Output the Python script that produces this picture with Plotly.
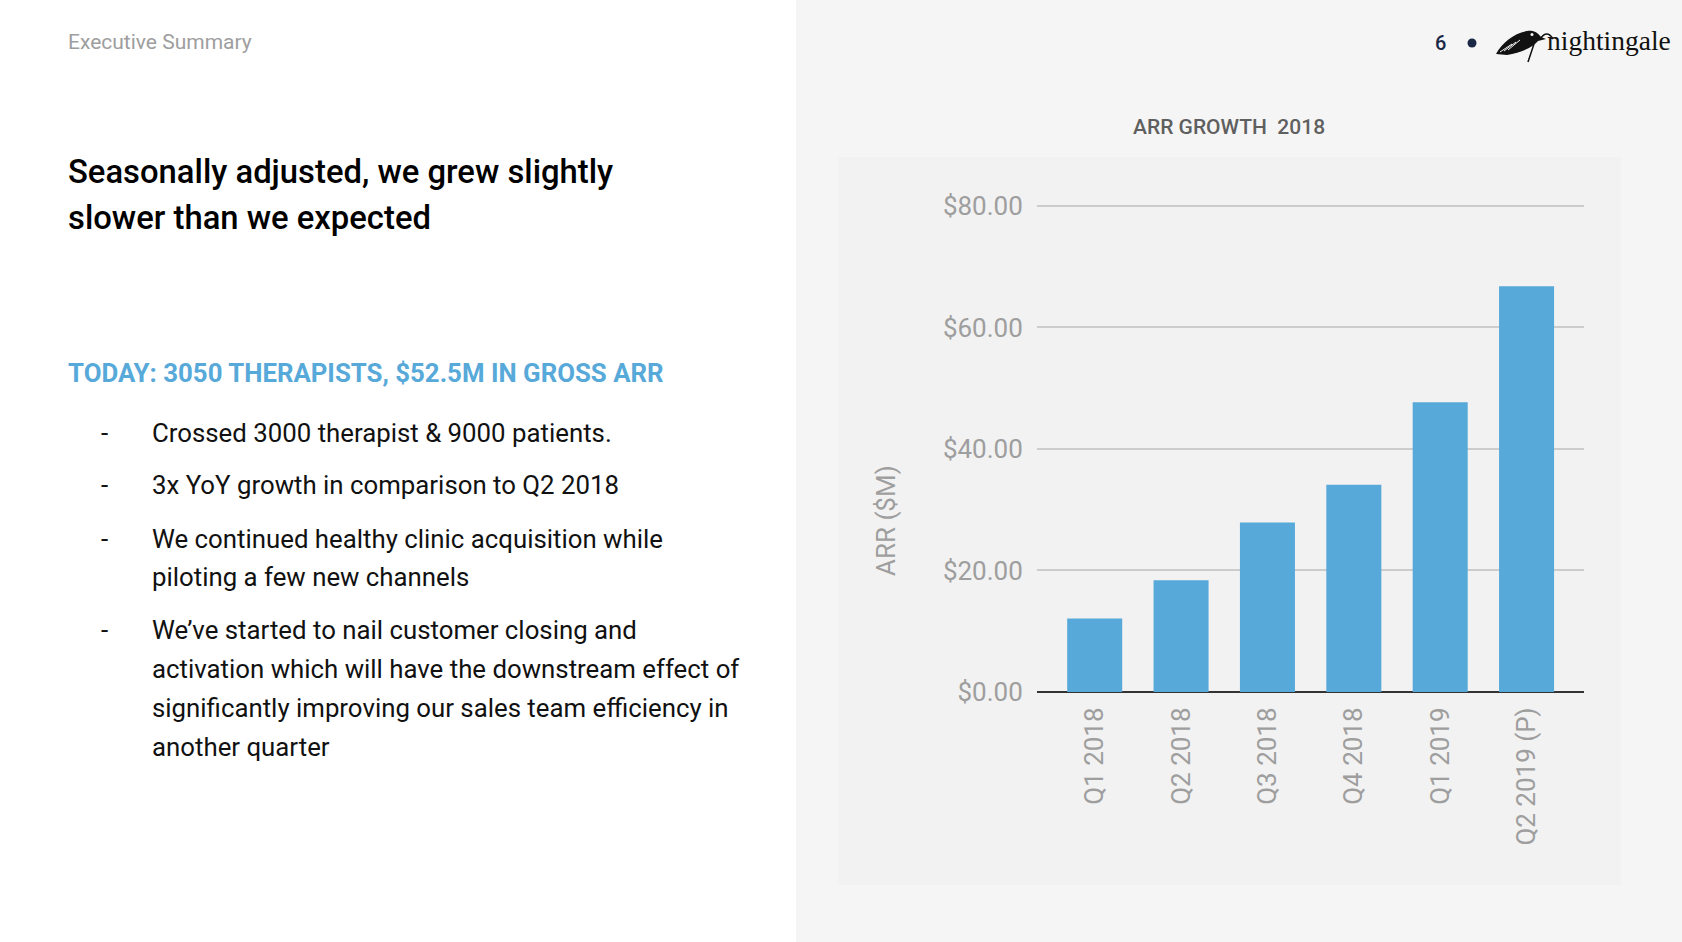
import plotly.graph_objects as go

W, H = 1682, 942

# chart data
quarters = ['Q1 2018', 'Q2 2018', 'Q3 2018', 'Q4 2018', 'Q1 2019', 'Q2 2019 (P)']
arr_musd = [12.1, 18.4, 27.9, 34.1, 47.7, 66.8]
y_ticks = [0, 20, 40, 60, 80]
y_tick_labels = ['$0.00', '$20.00', '$40.00', '$60.00', '$80.00']

# slide text
section_label = 'Executive Summary'
headline = ['Seasonally adjusted, we grew slightly', 'slower than we expected']
today_line = 'TODAY: 3050 THERAPISTS, $52.5M IN GROSS ARR'
bullets = [
    ['Crossed 3000 therapist & 9000 patients.'],
    ['3x YoY growth in comparison to Q2 2018'],
    ['We continued healthy clinic acquisition while', 'piloting a few new channels'],
    ['We\u2019ve started to nail customer closing and',
     'activation which will have the downstream effect of',
     'significantly improving our sales team efficiency in',
     'another quarter'],
]
chart_title = 'ARR GROWTH\u00a0 2018'
page_no = '6'
brand = 'nightingale'


def px(x):
    return x / W


def py(y):
    return 1 - y / H


fig = go.Figure()
fig.add_bar(x=quarters, y=arr_musd, marker=dict(color='#57a9d9', line=dict(width=0)),
            width=0.637, hoverinfo='x+y')

annotations = []


def note(text, x, y, size, color, xanchor='left', weight=400, family='Roboto', angle=0):
    annotations.append(dict(text=text, x=px(x), y=py(y), xref='paper', yref='paper',
                            xanchor=xanchor, yanchor='middle', showarrow=False,
                            textangle=angle,
                            font=dict(family=family, size=size, color=color, weight=weight)))


note(section_label, 66, 42, 21, '#9e9e9e')
for i, line in enumerate(headline):
    note(line, 66, 172 + i * 46, 32.8, '#000000', weight=500)
note(today_line, 66, 373, 25.8, '#57a9d9', weight=700)

# bullet lines, 39px apart inside a bullet, extra gap between bullets
line_y = [[433], [485], [538.5, 577], [630, 668.5, 708, 746.5]]
for lines, ys in zip(bullets, line_y):
    note('-', 104, ys[0], 26, '#111111', xanchor='center')
    for text, y in zip(lines, ys):
        note(text, 150, y, 25.8, '#111111')

note(chart_title, 1229, 127, 21, '#5f5f5f', xanchor='center', weight=500)
note('ARR ($M)', 886, 521, 26, '#9e9e9e', xanchor='center', angle=-90)

# header: page number, dot, brand
note(page_no, 1440, 43, 20, '#1b2845', xanchor='center', weight=500)
note(brand, 1545, 41, 27.5, '#111111', family='Liberation Serif')

shapes = [
    dict(type='rect', xref='paper', yref='paper', x0=px(796), x1=1, y0=0, y1=1,
         fillcolor='#f5f5f5', line=dict(width=0), layer='below'),
    dict(type='rect', xref='paper', yref='paper', x0=px(838), x1=px(1621), y0=py(885), y1=py(157),
         fillcolor='#f2f2f2', line=dict(width=0), layer='below'),
    dict(type='circle', xref='paper', yref='paper', x0=px(1467.5), x1=px(1476.5),
         y0=py(47.5), y1=py(38.5), fillcolor='#1b2845', line=dict(width=0)),
]


def path(cmds):
    out = []
    for c in cmds:
        if isinstance(c, str):
            out.append(c)
        else:
            out.append(f'{px(c[0]):.5f},{py(c[1]):.5f}')
    return ' '.join(out)


# rough bird mark of the logo
bird = path(['M', (1496, 54), 'C', (1502, 43), (1514, 33), (1527, 31),
             'C', (1534, 30), (1538, 33), (1541, 37), 'L', (1546, 39), 'L', (1538, 41),
             'C', (1533, 47), (1521, 53), (1507, 55), 'Z'])
twig = path(['M', (1540, 39), 'Q', (1547, 29), (1553, 39)])
stem = path(['M', (1534, 44), 'L', (1528, 62)])
shapes.append(dict(type='path', xref='paper', yref='paper', path=bird,
                   fillcolor='#111111', line=dict(width=0)))
shapes.append(dict(type='path', xref='paper', yref='paper', path=twig,
                   line=dict(color='#111111', width=1.5)))
shapes.append(dict(type='path', xref='paper', yref='paper', path=stem,
                   line=dict(color='#111111', width=1.5)))
for k in range(3):
    feather = path(['M', (1500 + k * 4, 52 - k * 1), 'L', (1512 + k * 4, 44 - k * 2)])
    shapes.append(dict(type='path', xref='paper', yref='paper', path=feather,
                       line=dict(color='#f5f5f5', width=1)))
shapes.append(dict(type='circle', xref='paper', yref='paper', x0=px(1530.5), x1=px(1533.5),
                   y0=py(36), y1=py(33), fillcolor='#f5f5f5', line=dict(width=0)))

fig.update_layout(
    width=W, height=H, autosize=False,
    margin=dict(l=0, r=0, t=0, b=0, pad=0, autoexpand=False),
    paper_bgcolor='#ffffff', plot_bgcolor='rgba(0,0,0,0)',
    font=dict(family='Roboto'),
    showlegend=False,
    bargap=0.363,
    annotations=annotations,
    shapes=shapes,
    xaxis=dict(domain=[px(1037), px(1584)], range=[-0.668, 5.665], type='category',
               tickangle=-90, tickfont=dict(size=26, color='#9e9e9e'),
               showgrid=False, showline=False, zeroline=False, automargin=False,
               ticks='outside', ticklen=4, tickcolor='rgba(0,0,0,0)'),
    yaxis=dict(domain=[py(692), py(199.9)], range=[0, 81],
               tickvals=y_ticks, ticktext=y_tick_labels,
               tickfont=dict(size=26, color='#9e9e9e'), automargin=False,
               gridcolor='#cccccc', gridwidth=1.5,
               zeroline=True, zerolinecolor='#333333', zerolinewidth=2,
               showline=False, ticks='outside', ticklen=8, tickcolor='rgba(0,0,0,0)'),
)

fig.write_html('out.html', config={'displayModeBar': False},
               post_script="document.body.style.margin='0';document.body.style.overflow='hidden';")
